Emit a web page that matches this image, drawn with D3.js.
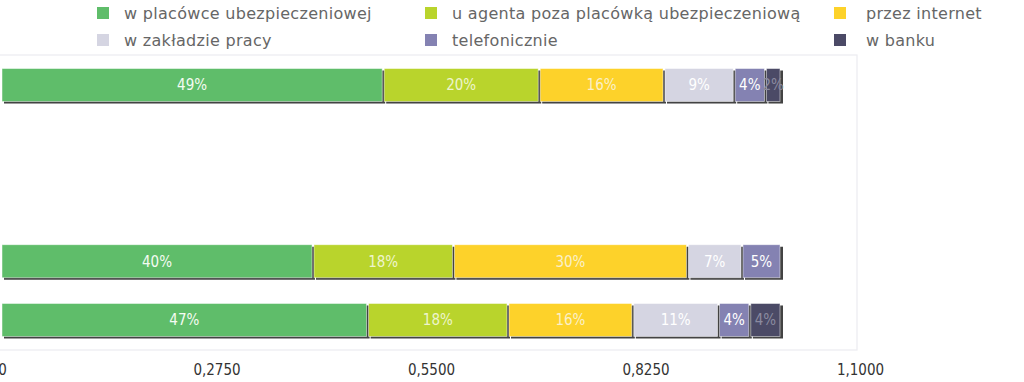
<!DOCTYPE html>
<html><head><meta charset="utf-8">
<script src="https://cdn.jsdelivr.net/npm/d3@7"></script>
<style>
html,body{margin:0;padding:0;background:#fff;}
svg{display:block;}
</style></head>
<body>
<script>
// ---- data ----
const categories = ["Kategoria A", "Kategoria B", "Kategoria C", "Kategoria D", "Kategoria E"];
const seriesNames = ["w placówce ubezpieczeniowej", "u agenta poza placówką ubezpieczeniową", "przez internet", "w zakładzie pracy", "telefonicznie", "w banku"];
const seriesColors = ["#5fbd6a", "#b9d42c", "#fdd22a", "#d5d5e2", "#8482b2", "#4b4a66"];
const labelColors = ["#f4fbf2", "#eef4cc", "#faf0c8", "#ffffff", "#ffffff", "#8a8aa0"];
const wPlacowce   = [0.49, null, null, 0.40, 0.47];
const uAgenta     = [0.20, null, null, 0.18, 0.18];
const przezInternet = [0.16, null, null, 0.30, 0.16];
const wZakladzie  = [0.09, null, null, 0.07, 0.11];
const telefonicznie = [0.04, null, null, 0.05, 0.04];
const wBanku      = [0.02, null, null, 0.00, 0.04];
const tickValues = [0, 0.275, 0.55, 0.825, 1.1];
const tickLabels = ["0", "0,2750", "0,5500", "0,8250", "1,1000"];

const series = [wPlacowce, uAgenta, przezInternet, wZakladzie, telefonicznie, wBanku];

const W = 1024, H = 382;
const svg = d3.select("body").append("svg").attr("width", W).attr("height", H);

const plot = {left: 1, right: 857, top: 55, bottom: 350};
const x = d3.scaleLinear().domain([0, 1.1]).range([2, 860]);
const y = d3.scaleBand().domain(categories).range([plot.top, plot.bottom]).paddingInner(0.438).paddingOuter(0.23);

// plot border
svg.append("rect").attr("x", -2).attr("y", plot.top).attr("width", plot.right + 2).attr("height", plot.bottom - plot.top)
  .attr("fill", "none").attr("stroke", "#ececf0").attr("stroke-width", 1.2);

// stacked bars
const stackData = categories.map((c, i) => {
  let acc = 0;
  return series.map((s, k) => {
    const v = s[i];
    const seg = {cat: c, k, v, x0: acc, x1: acc + (v || 0)};
    acc += (v || 0);
    return seg;
  }).filter(d => d.v);
});

const gBars = svg.append("g");
stackData.forEach(segs => {
  const g = gBars.append("g");
  g.selectAll("rect.sh").data(segs).join("rect").attr("class", "sh")
    .attr("x", d => x(d.x0) + 2).attr("y", d => y(d.cat) + 2)
    .attr("width", d => Math.max(0, x(d.x1) - x(d.x0) - 1)).attr("height", y.bandwidth())
    .attr("fill", "#2f2f2f").attr("opacity", 0.9);
  g.selectAll("rect.seg").data(segs).join("rect").attr("class", "seg")
    .attr("x", d => x(d.x0)).attr("y", d => y(d.cat))
    .attr("width", d => Math.max(0, x(d.x1) - x(d.x0) - 2)).attr("height", y.bandwidth())
    .attr("fill", d => seriesColors[d.k]).attr("stroke", "#ffffff").attr("stroke-opacity", 0.6).attr("stroke-width", 0.8);
  g.selectAll("text").data(segs).join("text")
    .attr("x", d => (x(d.x0) + x(d.x1)) / 2 - 1).attr("y", d => y(d.cat) + y.bandwidth() / 2)
    .attr("dy", "0.36em").attr("text-anchor", "middle")
    .attr("font-family", "'Liberation Sans Narrow','DejaVu Sans Condensed',sans-serif").attr("font-size", 15)
    .attr("fill", d => labelColors[d.k])
    .text(d => Math.round(d.v * 100) + "%");
});

// x axis labels
const xAxis = d3.axisBottom(x).tickValues(tickValues).tickSize(0).tickPadding(0)
  .tickFormat((d, i) => tickLabels[i]);
const gx = svg.append("g").attr("transform", "translate(0,364)").call(xAxis);
gx.select(".domain").remove();
gx.selectAll("text").attr("font-family", "'Liberation Sans Narrow','DejaVu Sans Condensed',sans-serif")
  .attr("font-size", 15).attr("fill", "#333");

// legend
const legendPos = [[97, 13, 124], [425, 13, 452], [834, 13, 866], [97, 40, 124], [425, 40, 452], [834, 40, 866]];
const gl = svg.append("g");
seriesNames.forEach((name, k) => {
  const [lx, ly, tx] = legendPos[k];
  gl.append("rect").attr("x", lx).attr("y", ly - 6).attr("width", 12).attr("height", 12).attr("fill", seriesColors[k]);
  gl.append("text").attr("x", tx).attr("y", ly).attr("dy", "0.35em")
    .attr("font-family", "'DejaVu Sans',sans-serif").attr("font-size", 16).attr("letter-spacing", 0.3).attr("fill", "#666")
    .text(name);
});
</script>
</body></html>
